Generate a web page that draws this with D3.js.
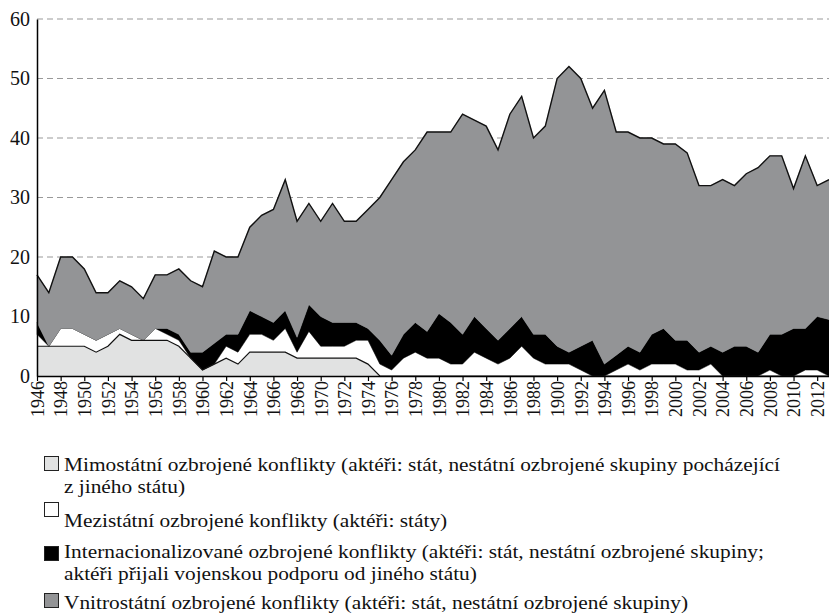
<!DOCTYPE html>
<html>
<head>
<meta charset="utf-8">
<script src="https://cdn.jsdelivr.net/npm/d3@7"></script>
<style>
  body { margin: 0; background: #fff; }
</style>
</head>
<body>
<div id="chart"></div>
<script>
// years 1946..2013
var years = d3.range(1946, 2014);

// conflict counts per type
var mimo = [5,5,5,5,5,4,5,7,6,6,6,6,5,3,1,2,3,2,4,4,4,4,3,3,3,3,3,3,2,0,
            0,0,0,0,0,0,0,0,0,0,0,0,0,0,0,0,0,0,0,0,0,0,0,0,0,0,0,0,0,0,0,0,0,0,0,0,0,0];
var mezi = [2,0,3,3,2,2,2,1,1,0,2,1,1,0,0,0,2,2,3,3,2,4,1,4.5,2,2,2,3,4,2,
            1,3,4,3,3,2,2,4,3,2,3,5,3,2,2,2,1,0,0,1,2,1,2,2,2,1,1,2,0,0,0,0,1,0,0,1,1,0];
var inter = [2,0,0,0,0,0,0,0,0,0,0,1,1,1,3,3.5,2,3,4,3,3,3,2.5,4.5,5,4,4,3,2,4,
             2.5,4,5,4.5,7.5,7,5,6,5,4,5,5,4,5,3,2,4,6,2,2.5,3,3,5,6,4,5,3,3,4,5,5,4,6,7,8,7,9,9.5];
var vnitro = [8,9,12,12,11,8,7,8,8,7,9,9,11,12,11,15.5,13,13,14,17,19,22,19.5,17,16,20,17,17,20,24,
              29.5,29,29,33.5,30.5,32,37,33,34,32,36,37,33,35,45,48,45,39,46,37.5,36,36,33,31,33,31.5,28,27,29,27,29,31,30,30,23.5,29,22,23.5];

var tickYears = d3.range(1946, 2013, 2);
var tickLabels = ["1946","1948","1950","1952","1954","1956","1958","1960","1962","1964",
                  "1966","1968","1970","1972","1974","1976","1978","1980","1982","1984",
                  "1986","1988","1900","1992","1994","1996","1998","2000","2002","2004",
                  "2006","2008","2010","2012"];
var yTicks = [0,10,20,30,40,50,60];

var keys = ["mimo","mezi","inter","vnitro"];
var colors = { mimo: "#e1e2e2", mezi: "#ffffff", inter: "#000000", vnitro: "#939496" };
var legendLines = [
  ["Mimostátní ozbrojené konflikty (aktéři: stát, nestátní ozbrojené skupiny pocházející", "z jiného státu)"],
  ["Mezistátní ozbrojené konflikty (aktéři: státy)"],
  ["Internacionalizované ozbrojené konflikty (aktéři: stát, nestátní ozbrojené skupiny;", "aktéři přijali vojenskou podporu od jiného státu)"],
  ["Vnitrostátní ozbrojené konflikty (aktéři: stát, nestátní ozbrojené skupiny)"]
];

var table = years.map(function (y, i) {
  return { year: y, mimo: mimo[i], mezi: mezi[i], inter: inter[i], vnitro: vnitro[i] };
});

var FONT = '"Liberation Serif", "Tinos", "Times New Roman", "DejaVu Serif", "Noto Serif", serif';
var W = 829, H = 613;
var svg = d3.select("#chart").append("svg").attr("width", W).attr("height", H);

var x = d3.scaleLinear().domain([1946, 2013]).range([37, 829]);
var y = d3.scaleLinear().domain([0, 60]).range([376, 19]);

// grid
svg.append("g").selectAll("line").data(yTicks.slice(1)).join("line")
  .attr("x1", 37).attr("x2", W)
  .attr("y1", function (d) { return y(d); }).attr("y2", function (d) { return y(d); })
  .attr("stroke", "#999").attr("stroke-width", 1.2).attr("stroke-dasharray", "6,4");

var series = d3.stack().keys(keys)(table);
var area = d3.area()
  .x(function (d) { return x(d.data.year); })
  .y0(function (d) { return y(d[0]); })
  .y1(function (d) { return y(d[1]); });

svg.append("g").selectAll("path").data(series).join("path")
  .attr("d", area)
  .attr("fill", function (d) { return colors[d.key]; })
  .attr("stroke", function (d) { return colors[d.key]; })
  .attr("stroke-width", 0.5);

var topLine = d3.line()
  .x(function (d) { return x(d.data.year); })
  .y(function (d) { return y(d[1]); });

// outlines on the light layer and the total
svg.append("path").attr("d", topLine(series[0]))
  .attr("fill", "none").attr("stroke", "#111").attr("stroke-width", 1.2);
svg.append("path").attr("d", topLine(series[3]))
  .attr("fill", "none").attr("stroke", "#111").attr("stroke-width", 1.4);

// axes
var yAxis = svg.append("g").attr("transform", "translate(37,0)")
  .call(d3.axisLeft(y).tickValues(yTicks).tickSize(0).tickPadding(7));
yAxis.select(".domain").attr("stroke", "#000").attr("stroke-width", 1.5);
yAxis.selectAll("text").style("font-family", FONT).style("font-size", "20px").attr("fill", "#111");

var xAxis = svg.append("g").attr("transform", "translate(0,376)")
  .call(d3.axisBottom(x).tickValues(tickYears).tickSize(5).tickSizeOuter(0)
    .tickFormat(function (d, i) { return tickLabels[i]; }));
xAxis.select(".domain").attr("stroke", "#000").attr("stroke-width", 1.5);
xAxis.selectAll(".tick line").attr("stroke", "#000").attr("stroke-width", 1.2);
xAxis.selectAll("text")
  .style("font-family", FONT).style("font-size", "18px").attr("fill", "#111")
  .attr("transform", "rotate(-90)")
  .attr("text-anchor", "end")
  .attr("x", -5).attr("y", 0).attr("dy", "0.35em");

// legend
var squareY = [456, 502, 546, 593];
var baselines = [[471, 493], [527], [558, 580], [609]];
var legendFills = ["#e1e2e2", "#ffffff", "#000000", "#939496"];
var leg = svg.append("g");
var texts = [];
legendLines.forEach(function (lines, i) {
  leg.append("rect")
    .attr("x", 44.5).attr("y", squareY[i] + 0.5).attr("width", 14).attr("height", 14)
    .attr("fill", legendFills[i]).attr("stroke", "#222").attr("stroke-width", 1);
  lines.forEach(function (t, j) {
    texts.push(leg.append("text")
      .attr("x", 64).attr("y", baselines[i][j])
      .style("font-family", FONT).style("font-size", "18px").attr("fill", "#111")
      .text(t));
  });
});
// stretch legend text so the first line spans like the original
var k = 716 / texts[0].node().getComputedTextLength();
texts.forEach(function (t) {
  t.attr("textLength", t.node().getComputedTextLength() * k).attr("lengthAdjust", "spacingAndGlyphs");
});
</script>
</body>
</html>
